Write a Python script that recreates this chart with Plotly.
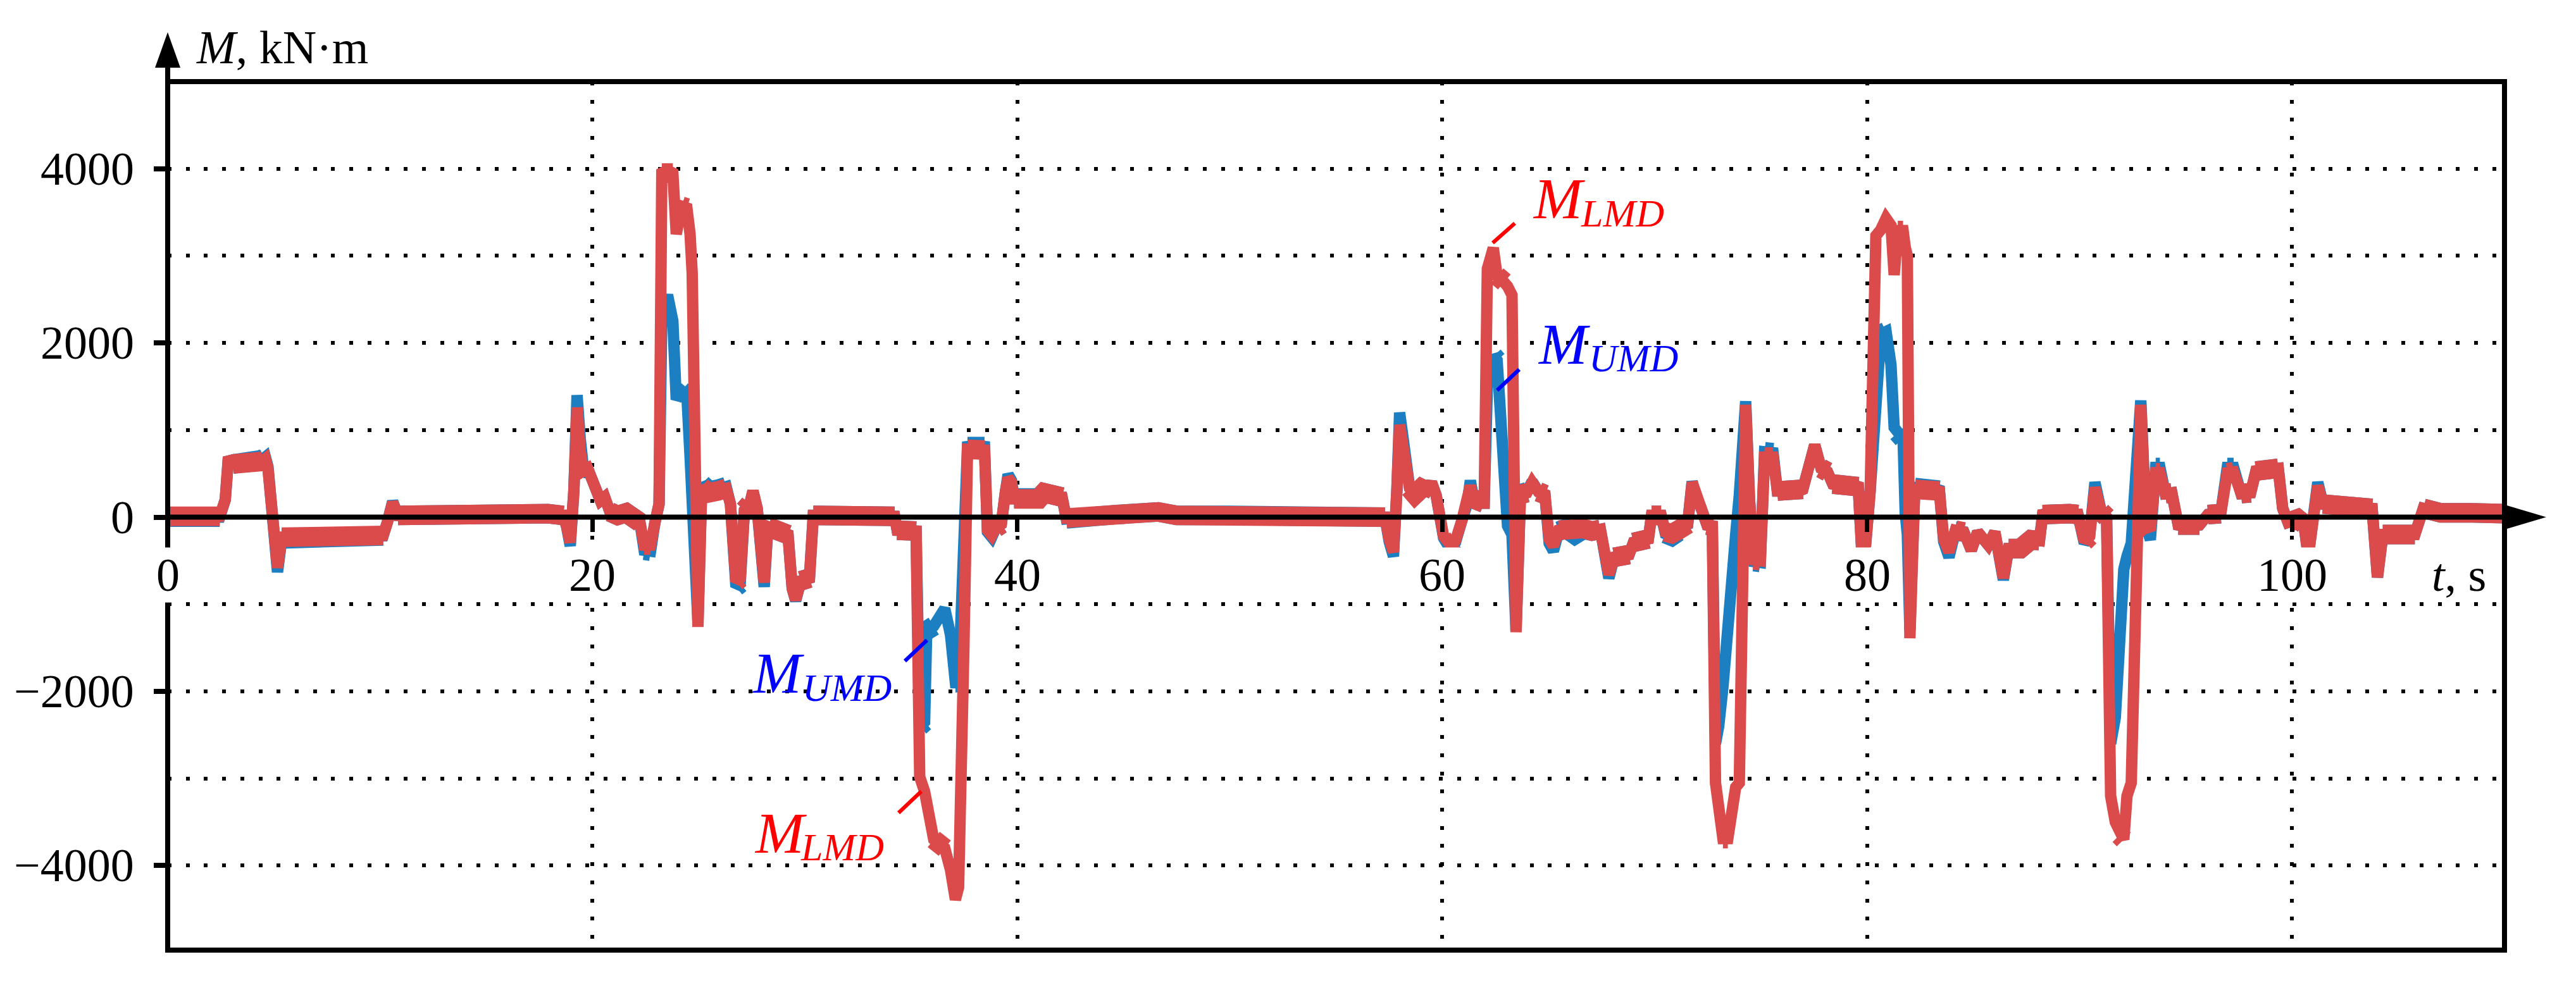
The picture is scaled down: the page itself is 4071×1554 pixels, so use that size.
import plotly.graph_objects as go

# time, s (shared by both series)
t = [
    0.0, 0.8, 1.6, 2.45, 2.71, 2.86, 3.06, 3.6, 4.06, 4.45,
    4.6, 4.72, 4.92, 5.17, 5.37, 6.5, 8.0, 9.5, 10.14, 10.34,
    10.59, 10.84, 12.14, 13.5, 15.0, 16.5, 17.9, 18.62, 18.77, 18.95,
    19.12, 19.27, 19.42, 19.57, 19.77, 19.97, 20.17, 20.37, 20.57, 20.82,
    21.18, 21.58, 21.98, 22.23, 22.43, 22.73, 22.93, 23.13, 23.26, 23.53,
    23.78, 23.94, 24.19, 24.44, 24.59, 24.69, 24.96, 25.14, 25.49, 25.89,
    26.29, 26.49, 26.75, 26.95, 27.15, 27.4, 27.55, 27.75, 27.9, 28.08,
    28.25, 28.6, 28.95, 29.2, 29.4, 29.56, 29.81, 30.21, 30.39, 31.5,
    32.7, 34.22, 34.34, 35.23, 35.4, 35.63, 35.73, 36.06, 36.33, 36.58,
    36.85, 37.08, 37.23, 37.33, 37.48, 37.65, 38.04, 38.45, 38.59, 38.79,
    38.99, 39.24, 39.44, 39.56, 39.72, 39.84, 41.0, 41.25, 41.6, 42.1,
    42.3, 43.5, 44.66, 46.62, 47.5, 50.0, 53.0, 55.0, 57.15, 57.3,
    57.5, 57.7, 57.86, 57.99, 58.13, 58.26, 58.46, 58.71, 59.01, 59.26,
    59.49, 59.71, 59.88, 60.06, 60.36, 60.62, 60.92, 61.17, 61.32, 61.47,
    61.72, 61.97, 62.12, 62.4, 62.58, 62.82, 62.92, 63.07, 63.28, 63.47,
    63.68, 63.98, 64.23, 64.53, 64.83, 65.03, 65.23, 65.48, 65.83, 66.24,
    66.64, 67.04, 67.44, 67.64, 67.84, 68.09, 68.44, 68.79, 69.0, 69.35,
    69.7, 69.85, 70.3, 70.5, 70.8, 71.1, 71.3, 71.55, 71.76, 71.96,
    72.16, 72.46, 72.71, 72.86, 73.01, 73.21, 73.44, 73.66, 73.81, 73.98,
    74.28, 74.46, 74.67, 74.97, 75.17, 75.57, 75.77, 76.17, 76.57, 76.97,
    77.27, 77.53, 77.83, 78.13, 78.38, 78.78, 79.18, 79.58, 79.73, 79.93,
    80.14, 80.41, 80.64, 80.89, 81.12, 81.27, 81.44, 81.69, 81.79, 81.89,
    82.01, 82.24, 82.59, 83.0, 83.4, 83.6, 83.85, 84.15, 84.55, 84.9,
    85.2, 85.7, 86.01, 86.41, 86.66, 87.21, 87.71, 88.11, 88.26, 88.72,
    89.12, 89.52, 89.92, 90.22, 90.47, 90.72, 91.02, 91.27, 91.46, 91.68,
    91.88, 92.08, 92.23, 92.43, 92.88, 93.13, 93.33, 93.58, 93.78, 94.03,
    94.34, 94.64, 95.14, 95.64, 96.04, 96.64, 96.95, 97.25, 97.6, 98.05,
    98.3, 98.85, 99.35, 99.56, 99.81, 100.26, 100.56, 100.76, 100.96, 101.21,
    101.46, 102.5, 103.77, 104.02, 104.27, 105.78, 106.18, 107.0, 108.5, 109.95,
]

# moment in the lower measuring device, kN·m
m_lmd = [
    10, 20, 10, 10, 200, 690, 610, 600, 610, 640,
    670, 560, -150, -580, -230, -225, -220, -215, -210, -60,
    170, 20, 30, 20, 20, 20, 40, 20, -100, -290,
    300, 1260, 760, 530, 560, 420, 330, 190, 230, 60,
    20, 50, 10, -60, -320, -320, -70, 150, 3950, 3980,
    3950, 3250, 3570, 3550, 3250, 2800, -1260, 340, 280, 300,
    330, 150, -740, -700, 80, 150, 300, 100, -450, -750,
    -110, -150, -160, -200, -820, -950, -730, -700, 20, 30,
    20, 10, -150, -160, -2980, -3150, -3250, -3700, -3760, -3800,
    -4050, -4390, -4250, -3450, -1500, 780, 780, 770, -150, -210,
    -120, -80, 300, 450, 400, 210, 210, 280, 240, 230,
    -10, 20, 30, 60, 20, 20, 20, 20, 20, 0,
    -250, -400, 300, 1060, 850, 540, 330, 260, 330, 300,
    400, 250, 30, -220, -310, -270, -40, 150, 360, 210,
    160, 160, 2850, 3090, 2770, 2720, 2700, 2650, 2550, -1320,
    260, 280, 400, 290, 260, -250, -330, -150, -130, -160,
    -130, -160, -140, -450, -660, -460, -440, -430, -290, -270,
    -250, 20, 20, -170, -190, -150, -100, -80, 400, 200,
    120, -90, -100, -3050, -3300, -3690, -3690, -3150, -3100, -3050,
    1290, 200, -490, -500, 690, 690, 300, 300, 280, 320,
    600, 830, 560, 520, 380, 360, 380, 350, -320, -300,
    300, 3230, 3300, 3430, 3350, 2780, 3290, 3290, 3100, 3000,
    -1390, 320, 300, 330, 300, -250, -400, -150, -170, -380,
    -170, -320, -170, -700, -360, -360, -260, -270, 30, 50,
    20, 40, 30, -280, -220, 340, 60, 0, -3200, -3500,
    -3650, -3700, -3200, -3050, 1290, -100, -150, 510, 510, 270,
    280, -90, -110, -90, 30, 40, 510, 520, 270, 280,
    530, 540, 560, 100, -60, -20, -80, -450, -150, 360,
    150, 120, 100, -690, -200, -200, 100, 50, 50, 40,
]

# moment in the upper measuring device, kN·m
m_umd = [
    0, 10, 0, 0, 200, 690, 610, 610, 620, 660,
    690, 580, -150, -630, -250, -240, -235, -225, -215, -60,
    180, 20, 30, 20, 20, 20, 40, 20, -100, -330,
    300, 1400, 900, 560, 560, 430, 330, 190, 230, 60,
    20, 50, 10, -60, -380, -390, -70, 150, 2300, 2550,
    2250, 1350, 1450, 1400, 700, 0, -1200, 380, 300, 320,
    350, 150, -800, -760, 80, 150, 300, 100, -480, -800,
    -110, -150, -160, -200, -820, -960, -730, -700, 20, 30,
    20, 10, -150, -160, -2400, -2350, -1300, -1250, -1150, -1050,
    -1350, -1900, -1900, -1250, -900, 810, 820, 810, -170, -230,
    -120, -80, 300, 490, 420, 220, 220, 280, 240, 230,
    -20, 20, 30, 60, 20, 20, 20, 20, 20, 0,
    -280, -450, 300, 1200, 950, 580, 340, 260, 330, 300,
    400, 250, 30, -240, -360, -290, -40, 150, 420, 210,
    160, 160, 1500, 1850, 1800, 1000, 250, -100, -200, -1300,
    270, 290, 410, 290, 260, -300, -390, -160, -130, -200,
    -140, -160, -140, -460, -700, -460, -440, -430, -290, -270,
    -250, 20, 20, -190, -220, -170, -100, -80, 410, 200,
    120, -90, -100, -2600, -2400, -1950, -1150, -600, -200, 250,
    1330, 200, -510, -520, 750, 740, 300, 300, 280, 320,
    600, 830, 560, 520, 380, 360, 380, 350, -330, -300,
    300, 1500, 2100, 2130, 1750, 1030, 970, 900, 50, -200,
    -1300, 340, 320, 340, 310, -280, -460, -160, -170, -380,
    -170, -320, -170, -720, -360, -360, -260, -270, 30, 50,
    20, 40, 30, -300, -220, 400, 60, 0, -2600, -2300,
    -1300, -600, -450, -300, 1340, -100, -260, 570, 570, 270,
    280, -90, -110, -90, 30, 40, 570, 570, 270, 280,
    530, 540, 560, 100, -60, -20, -80, -450, -150, 400,
    150, 120, 100, -690, -200, -200, 100, 50, 50, 40,
]

x_ticks = [0, 20, 40, 60, 80, 100]
y_ticks = [-4000, -2000, 0, 2000, 4000]
y_tick_text = ["\u22124000", "\u22122000", "0", "2000", "4000"]
y_minor = [-3000, -1000, 1000, 3000]

X_RANGE = [0, 110]
Y_RANGE = [-4970, 5000]

# page is 4071x1554; the body keeps its default 8px margin
OFF = 8
W, H = 4071 - 2 * OFF, 1554 - 2 * OFF
PL, PT, PR, PB = 265, 129, 3958, 1502   # plot area in page pixels
PW = PR - PL
PH = PB - PT
L, T = PL - OFF, PT - OFF
R, B = W - L - PW, H - T - PH

RED = "#db4b4b"
BLUE = "#1b7fc1"
SERIF = "Liberation Serif"
LINE_W = 18    # width of a clean stroke
BAND_W = 31    # measured signal is jittery: flat stretches look this thick


def px(x):
    # page pixel -> paper x
    return (x - PL) / PW


def py(y):
    # page pixel -> paper y
    return (PB - y) / PH


def flat_parts(xs, ys, max_slope=1.2):
    # keep only the gently sloped pieces of a series (None breaks the rest)
    sx = PW / (X_RANGE[1] - X_RANGE[0])
    sy = PH / (Y_RANGE[1] - Y_RANGE[0])
    bx, by = [], []
    for i in range(len(xs) - 1):
        dx = (xs[i + 1] - xs[i]) * sx
        dy = abs(ys[i + 1] - ys[i]) * sy
        if dy > max_slope * dx:
            continue
        if not bx or bx[-1] != xs[i]:
            if bx:
                bx.append(None)
                by.append(None)
            bx.append(xs[i])
            by.append(ys[i])
        bx.append(xs[i + 1])
        by.append(ys[i + 1])
    return bx, by


zero_p = -Y_RANGE[0] / (Y_RANGE[1] - Y_RANGE[0])

fig = go.Figure()
for series, color, name in [(m_umd, BLUE, "M_UMD"), (m_lmd, RED, "M_LMD")]:
    bx, by = flat_parts(t, series)
    fig.add_trace(go.Scatter(x=bx, y=by, mode="lines", hoverinfo="skip",
                             line=dict(color=color, width=BAND_W)))
    fig.add_trace(go.Scatter(x=t, y=series, mode="lines", name=name,
                             line=dict(color=color, width=LINE_W)))

grid = dict(showgrid=True, gridcolor="black", gridwidth=6, griddash="6px,22.7px")

fig.update_layout(
    width=W, height=H,
    margin=dict(l=L, r=R, t=T, b=B),
    paper_bgcolor="white", plot_bgcolor="white",
    showlegend=False,
    font=dict(family=SERIF, size=74, color="black"),
    xaxis=dict(range=X_RANGE, tickmode="array", tickvals=x_ticks,
               showticklabels=False, zeroline=False, showline=False,
               anchor="free", position=zero_p,
               ticks="outside", ticklen=22, tickwidth=7, tickcolor="black",
               **grid),
    yaxis=dict(range=Y_RANGE, tickmode="array", tickvals=y_ticks,
               showticklabels=False, zeroline=False, showline=False,
               ticks="outside", ticklen=21, tickwidth=8, tickcolor="black",
               minor=dict(tickmode="array", tickvals=y_minor, ticks="",
                          **grid),
               **grid),
)

shapes = []
# frame
shapes.append(dict(type="rect", xref="paper", yref="paper", x0=0, y0=0, x1=1, y1=1,
                   line=dict(color="black", width=8), layer="above"))
# horizontal axis through zero with arrow
shapes.append(dict(type="line", xref="paper", yref="y", x0=0, x1=px(3964), y0=0, y1=0,
                   line=dict(color="black", width=8), layer="above"))
hh = 19 / PH
shapes.append(dict(type="path", xref="paper", yref="paper",
                   path=f"M {px(3960)},{zero_p + hh} L {px(4024)},{zero_p} L {px(3960)},{zero_p - hh} Z",
                   fillcolor="black", line=dict(width=0), layer="above"))
# vertical axis arrow
shapes.append(dict(type="line", xref="paper", yref="paper", x0=0, x1=0, y0=1, y1=py(102),
                   line=dict(color="black", width=8), layer="above"))
hw = 20 / PW
shapes.append(dict(type="path", xref="paper", yref="paper",
                   path=f"M {-hw},{py(107)} L 0,{py(51)} L {hw},{py(107)} Z",
                   fillcolor="black", line=dict(width=0), layer="above"))

# leader lines for the curve labels
leaders = [
    ((2359, 384), (2394, 353), "#ff0000"),
    ((2366, 617), (2401, 584), "#0000ff"),
    ((1430, 1045), (1465, 1012), "#0000ff"),
    ((1420, 1285), (1456, 1251), "#ff0000"),
]
for (xa, ya), (xb, yb), c in leaders:
    shapes.append(dict(type="line", xref="paper", yref="paper",
                       x0=px(xa), y0=py(ya), x1=px(xb), y1=py(yb),
                       line=dict(color=c, width=6), layer="above"))
fig.update_layout(shapes=shapes)

ann = []
# x tick labels just below the zero line, on white boxes
for v in x_ticks:
    ann.append(dict(x=v, xref="x", y=py(909), yref="paper", text=str(v),
                    showarrow=False, xanchor="center", yanchor="middle",
                    bgcolor="white", borderpad=2, font=dict(size=74)))
for v, s in zip(y_ticks, y_tick_text):
    ann.append(dict(x=px(214), xref="paper", y=v, yref="y", text=s,
                    showarrow=False, xanchor="right", yanchor="middle",
                    font=dict(size=74)))
# axis names
ann.append(dict(x=px(308), xref="paper", y=py(75), yref="paper",
                text="<i>M</i>, kN·m", showarrow=False,
                xanchor="left", yanchor="middle", font=dict(size=74)))
ann.append(dict(x=px(3886), xref="paper", y=py(909), yref="paper",
                text="<i>t</i>, s", showarrow=False,
                xanchor="center", yanchor="middle", bgcolor="white",
                font=dict(size=74)))

# curve labels: big italic M plus italic subscript
labels = [
    (2420, 314, 2496, 337, "LMD", "#ff0000"),
    (2428, 544, 2509, 566, "UMD", "#0000ff"),
    (1186, 1064, 1266, 1087, "UMD", "#0000ff"),
    (1190, 1317, 1263, 1339, "LMD", "#ff0000"),
]
for mx, my, sx, sy, sub, c in labels:
    ann.append(dict(x=px(mx), xref="paper", y=py(my), yref="paper",
                    text="<i>M</i>", showarrow=False,
                    xanchor="left", yanchor="middle",
                    font=dict(size=92, color=c)))
    ann.append(dict(x=px(sx), xref="paper", y=py(sy), yref="paper",
                    text=f"<i>{sub}</i>", showarrow=False,
                    xanchor="left", yanchor="middle",
                    font=dict(size=62, color=c)))
fig.update_layout(annotations=ann)

fig.write_html("out.html")
